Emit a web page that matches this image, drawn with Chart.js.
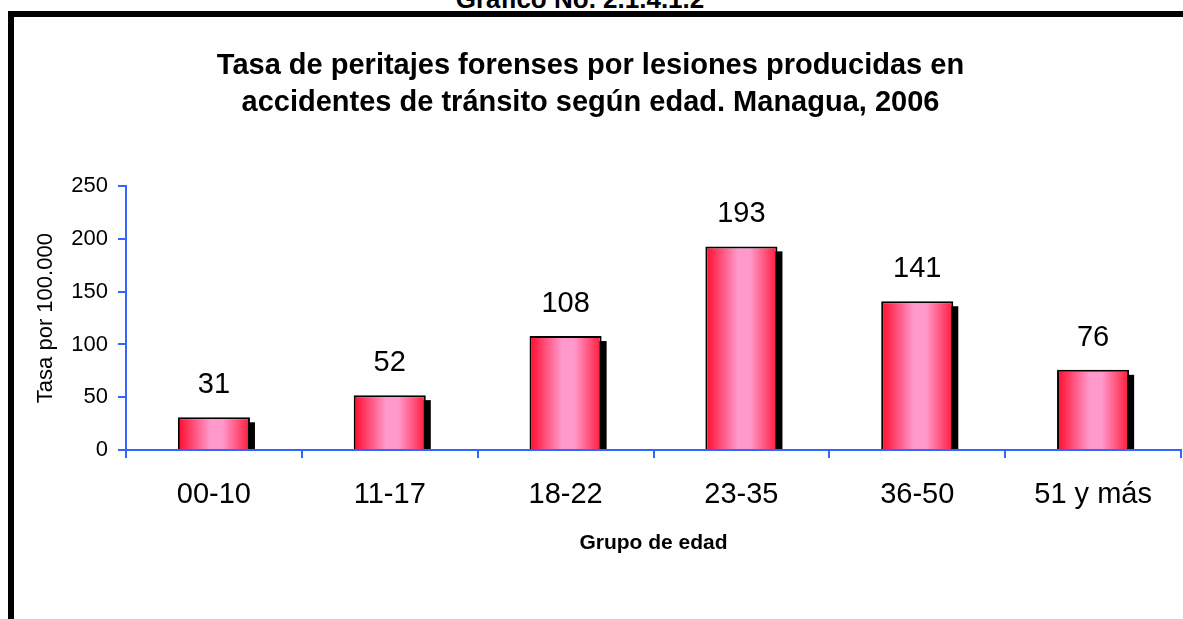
<!DOCTYPE html>
<html>
<head>
<meta charset="utf-8">
<script src="https://cdn.jsdelivr.net/npm/chart.js@4"></script>
<style>
  html, body { margin: 0; padding: 0; background: #fff; }
  body { width: 1183px; height: 619px; position: relative; overflow: hidden; font-family: Arial, "Liberation Sans", sans-serif; }
  #wrap { position: absolute; left: 0; top: 0; width: 1183px; height: 619px; }
  #marco { position: absolute; left: 8px; top: 11px; right: -20px; bottom: -20px; border-left: 6px solid #000; border-top: 6px solid #000; pointer-events: none; }
  #grafico { position: absolute; left: 0; width: 1160px; top: -14px; text-align: center; font-weight: bold; font-size: 26px; line-height: 26px; color: #000; }
</style>
</head>
<body>
<div id="grafico">Gráfico No. 2.1.4.1.2</div>
<div id="wrap"><canvas id="c" width="1183" height="619"></canvas></div>
<div id="marco"></div>
<script>
// datos
const grupos = ['00-10', '11-17', '18-22', '23-35', '36-50', '51 y más'];
const tasas = [31, 52, 108, 193, 141, 76];
const ticksY = [0, 50, 100, 150, 200, 250];

const titulo = [
  'Tasa de peritajes forenses por lesiones producidas en',
  'accidentes de tránsito según edad. Managua, 2006'
];

const AZUL = '#3366FF';
const FUENTE = 'Arial, "Liberation Sans", sans-serif';

// degradado rojo -> rosa -> rojo a lo ancho de cada barra
function degradado(ctx) {
  const chart = ctx.chart;
  const x = chart.scales.x;
  if (!x || ctx.type !== 'data') return '#FF6688';
  const ds = ctx.dataset;
  const cx = x.getPixelForValue(ctx.dataIndex);
  const ancho = (x.width / grupos.length) * ds.categoryPercentage * ds.barPercentage;
  if (!isFinite(cx) || !isFinite(ancho) || ancho <= 0) return '#FF6688';
  const g = chart.ctx.createLinearGradient(cx - ancho / 2, 0, cx + ancho / 2, 0);
  g.addColorStop(0, '#FF0A2C');
  g.addColorStop(0.45, '#FF99CC');
  g.addColorStop(0.62, '#FF99CC');
  g.addColorStop(1, '#FF1A3A');
  return g;
}

// sombra negra desplazada detrás de cada barra (a partir de los elementos de Chart.js)
const sombra = {
  id: 'sombra',
  beforeDatasetsDraw(chart) {
    const c = chart.ctx;
    const meta = chart.getDatasetMeta(0);
    const area = chart.chartArea;
    c.save();
    c.beginPath();
    c.rect(area.left, area.top - 40, area.width + 10, area.bottom - area.top + 40);
    c.clip();
    c.fillStyle = '#000';
    meta.data.forEach((bar) => {
      const w = bar.width;
      c.fillRect(bar.x - w / 2 + 5, bar.y + 5, w, bar.base - bar.y - 5);
    });
    c.restore();
  }
};

// valores encima de las barras
const etiquetas = {
  id: 'etiquetas',
  afterDatasetsDraw(chart) {
    const c = chart.ctx;
    const meta = chart.getDatasetMeta(0);
    c.save();
    c.font = '29px ' + FUENTE;
    c.fillStyle = '#000';
    c.textAlign = 'center';
    c.textBaseline = 'middle';
    meta.data.forEach((bar, i) => {
      c.fillText(String(tasas[i]), bar.x, bar.y - 32);
    });
    c.restore();
  }
};

new Chart(document.getElementById('c'), {
  type: 'bar',
  data: {
    labels: grupos,
    datasets: [{
      data: tasas,
      backgroundColor: degradado,
      borderColor: '#000',
      borderWidth: 2,
      borderSkipped: 'bottom',
      categoryPercentage: 1,
      barPercentage: 0.41,
    }]
  },
  options: {
    responsive: false,
    animation: false,
    layout: { padding: { left: 0, right: 2, top: 0, bottom: 0 } },
    plugins: {
      legend: { display: false },
      tooltip: { enabled: false },
      title: {
        display: true,
        text: titulo,
        color: '#000',
        font: { family: FUENTE, size: 29, weight: 'bold', lineHeight: 1.28 },
        padding: { top: 47.5, bottom: 64.5 },
      },
    },
    scales: {
      x: {
        border: { color: AZUL, width: 2 },
        grid: { drawOnChartArea: false, color: AZUL, lineWidth: 2, tickLength: 8, offset: true },
        ticks: { color: '#000', font: { family: FUENTE, size: 29 }, padding: 20, maxRotation: 0 },
        title: { display: true, text: 'Grupo de edad', color: '#000', font: { family: FUENTE, size: 21, weight: 'bold' }, padding: { bottom: 63 } },
        afterFit(s) { s.height = 169; },
      },
      y: {
        min: 0,
        max: 250,
        afterBuildTicks(s) { s.ticks = ticksY.map(v => ({ value: v })); },
        border: { color: AZUL, width: 2 },
        grid: { drawOnChartArea: false, color: AZUL, lineWidth: 2, tickLength: 8 },
        ticks: { color: '#000', font: { family: FUENTE, size: 22 }, padding: 10 },
        title: { display: true, text: 'Tasa por 100.000', color: '#000', font: { family: FUENTE, size: 22 }, padding: { top: 33 } },
        afterFit(s) { s.width = 126; },
      },
    },
  },
  plugins: [sombra, etiquetas],
});
</script>
</body>
</html>
